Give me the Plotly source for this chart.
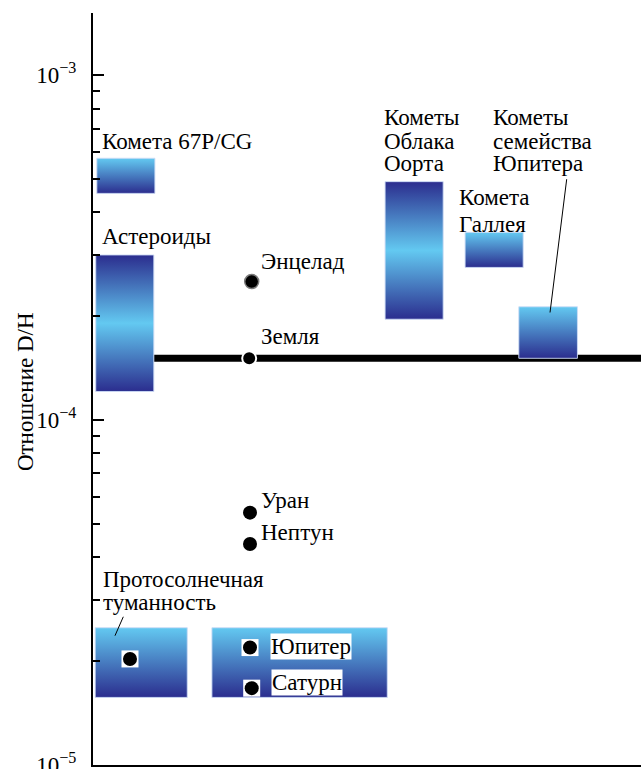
import math
import plotly.graph_objects as go

# --- D/H ranges of Solar System reservoirs (x in column units, y = D/H) ---
bar_names = ["Комета 67P/CG", "Астероиды", "Протосолнечная туманность", "Планеты-гиганты",
             "Кометы Облака Оорта", "Комета Галлея", "Кометы семейства Юпитера"]
bar_x0 = [0.07, 0.05, 0.04, 2.17, 5.33, 6.79, 7.77]
bar_x1 = [1.13, 1.11, 1.72, 5.37, 6.39, 7.85, 8.84]
bar_low = [4.54e-4, 1.21e-4, 1.57e-5, 1.57e-5, 1.96e-4, 2.77e-4, 1.51e-4]
bar_high = [5.74e-4, 3.01e-4, 2.50e-5, 2.50e-5, 4.91e-4, 3.50e-4, 2.13e-4]
bar_centered = [False, True, False, False, True, False, False]

# Earth reference level
earth_dh = 1.51e-4
earth_line_x = [1.11, 10.0]

# --- individual bodies ---
body_names = ["Энцелад", "Земля", "Уран", "Нептун", "Протосолнечная", "Юпитер", "Сатурн"]
body_x = [2.896, 2.85, 2.865, 2.865, 0.675, 2.865, 2.896]
body_dh = [2.52e-4, earth_dh, 5.39e-5, 4.37e-5, 2.03e-5, 2.19e-5, 1.67e-5]

# --- text labels: (lines, x, y of each line, white background) ---
labels = [
    (["Комета 67P/CG"], 0.14, [6.4e-4], False),
    (["Астероиды"], 0.146, [3.40e-4], False),
    (["Энцелад"], 3.05, [2.88e-4], False),
    (["Земля"], 3.05, [1.75e-4], False),
    (["Уран"], 3.05, [5.86e-5], False),
    (["Нептун"], 3.05, [4.71e-5], False),
    (["Протосолнечная", "туманность"], 0.16, [3.44e-5, 2.95e-5], False),
    (["Юпитер"], 3.23, [2.21e-5], True),
    (["Сатурн"], 3.25, [1.74e-5], True),
    (["Кометы", "Облака", "Оорта"], 5.29, [7.51e-4, 6.40e-4, 5.56e-4], False),
    (["Кометы", "семейства", "Юпитера"], 7.28, [7.51e-4, 6.40e-4, 5.56e-4], False),
    (["Комета", "Галлея"], 6.66, [4.43e-4, 3.68e-4], False),
]

# leader lines from labels to their boxes
leader_x = [[0.553, 0.401], [8.644, 8.34]]
leader_y = [[2.69e-5, 2.37e-5], [4.99e-4, 2.05e-4]]

# axis ticks
major_ticks = [1e-5, 1e-4, 1e-3]
major_text = ["10<sup>−5</sup>", "10<sup>−4</sup>", "10<sup>−3</sup>"]
minor_ticks = [m * 10.0 ** e for e in (-5, -4) for m in range(2, 10)]

DARK = "#2b2d8e"
LIGHT = "#63c9f1"
FONT = "Liberation Serif, Times New Roman, serif"
FSIZE = 23

fig = go.Figure()

# Earth level line
fig.add_trace(go.Scatter(x=earth_line_x, y=[earth_dh, earth_dh], mode="lines",
                         line=dict(color="black", width=7), hoverinfo="skip"))

# gradient boxes
for name, x0, x1, lo, hi, cen in zip(bar_names, bar_x0, bar_x1, bar_low, bar_high, bar_centered):
    scale = [[0, DARK], [0.5, LIGHT], [1, DARK]] if cen else [[0, DARK], [1, LIGHT]]
    fig.add_trace(go.Scatter(
        x=[x0, x1, x1, x0, x0], y=[lo, lo, hi, hi, lo], mode="lines", name=name,
        fill="toself", fillgradient=dict(type="vertical", colorscale=scale),
        line=dict(color="rgba(205,220,245,0.9)", width=1), hoverinfo="skip"))

# white squares behind points that sit inside boxes
boxed = [4, 5, 6]
fig.add_trace(go.Scatter(x=[body_x[i] for i in boxed], y=[body_dh[i] for i in boxed],
                         mode="markers", marker=dict(symbol="square", size=17, color="white"),
                         hoverinfo="skip"))

outline = ["#7a7a7a", "white", "white", "white", "white", "white", "white"]
widths = [1.5, 2, 0, 0, 0, 0, 0]
fig.add_trace(go.Scatter(x=body_x, y=body_dh, mode="markers", text=body_names,
                         marker=dict(size=14, color="black",
                                     line=dict(color=outline, width=widths))))

for lx, ly in zip(leader_x, leader_y):
    fig.add_trace(go.Scatter(x=lx, y=ly, mode="lines", line=dict(color="black", width=1),
                             hoverinfo="skip"))

for lines, x, ys, bg in labels:
    for text, y in zip(lines, ys):
        fig.add_annotation(x=x, y=math.log10(y), text=text, showarrow=False,
                           xanchor="left", yanchor="middle",
                           font=dict(family=FONT, size=FSIZE, color="black"),
                           bgcolor="white" if bg else None, borderpad=0)

fig.add_annotation(x=-0.124, y=0.496, xref="paper", yref="paper", text="Отношение D/H",
                   textangle=-90, showarrow=False, xanchor="center", yanchor="middle",
                   font=dict(family=FONT, size=FSIZE, color="black"))

fig.update_layout(
    width=641, height=769, margin=dict(l=93, r=0, t=13, b=4, autoexpand=False),
    plot_bgcolor="white", paper_bgcolor="white", showlegend=False,
    font=dict(family=FONT, size=FSIZE, color="black"),
    xaxis=dict(range=[0, 10], showline=True, linecolor="black", linewidth=2,
               showticklabels=False, ticks="", showgrid=False, zeroline=False,
               automargin=False),
    yaxis=dict(type="log", range=[-5, -2.82], showline=True, linecolor="black", linewidth=2,
               tickvals=major_ticks, ticktext=major_text, ticks="inside", ticklen=11,
               tickwidth=2, tickcolor="black", showgrid=False, zeroline=False,
               ticklabelstandoff=10, ticklabeloverflow="allow", automargin=False,
               tickfont=dict(family=FONT, size=FSIZE, color="black"),
               minor=dict(tickvals=minor_ticks, ticks="inside", ticklen=7, tickwidth=2,
                          tickcolor="black", showgrid=False)),
)

fig.write_html("out.html")
